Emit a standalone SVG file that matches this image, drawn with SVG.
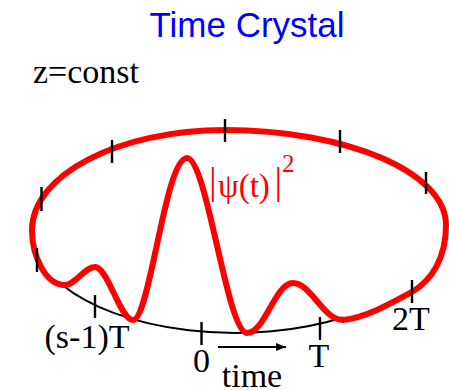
<svg xmlns="http://www.w3.org/2000/svg" width="449" height="390" viewBox="0 0 449 390">
<style>
.serif{font-family:"Liberation Serif","Times New Roman",serif;}
.tick{stroke:#000;stroke-width:2.4;fill:none;}
.lbl{font-size:34px;fill:#000;text-anchor:middle;}
</style>
<defs>
<marker id="ah" markerUnits="userSpaceOnUse" markerWidth="10" markerHeight="8" refX="10" refY="4" orient="auto">
<path d="M0,0 L10,4 L0,8 Z" fill="#000"/>
</marker>
</defs>
<rect width="449" height="390" fill="#fff"/>
<g id="title"><text x="247" y="37" font-family="'Liberation Sans',Arial,sans-serif" font-size="35" fill="#0000ff" text-anchor="middle">Time Crystal</text></g>
<g id="zconst"><text class="serif" x="33" y="83" font-size="34" fill="#000">z=const</text></g>
<g id="connectors">
<path id="baseline" d="M62 284.8 A203 101 0 0 0 343 317.5" fill="none" stroke="#000" stroke-width="2"/>
<line id="time-arrow" x1="218" y1="347" x2="286" y2="347" stroke="#000" stroke-width="2" marker-end="url(#ah)"/>
</g>
<g id="wave">
<path d="M343 320 C365 318 390 304 412 292 C432 280 446 258 446 225 C446 172.5 347 130 225 130 C118.4 130 32 174.8 32 230 C32 255 45 285 65 285 C75 285 85 267 95 267 C108 267 120 320 133 320 C150 320 165 158 187 158 C207 158 227 333 247 333 C265 333 275 283 293 283 C311 283 323 320 343 320 Z" fill="none" stroke="#ff0000" stroke-width="6" stroke-linejoin="round"/>
</g>
<g id="ticks">
<line class="tick" x1="225" y1="119" x2="225" y2="142"/>
<line class="tick" x1="112" y1="140" x2="112" y2="163"/>
<line class="tick" x1="41.5" y1="187" x2="41.5" y2="211"/>
<line class="tick" x1="37" y1="248" x2="37" y2="272"/>
<line class="tick" x1="95" y1="295" x2="95" y2="318"/>
<line class="tick" x1="201.5" y1="322" x2="201.5" y2="345"/>
<line class="tick" x1="320" y1="317" x2="320" y2="340"/>
<line class="tick" x1="412" y1="280" x2="412" y2="303"/>
<line class="tick" x1="340" y1="130" x2="340" y2="153"/>
<line class="tick" x1="426" y1="172" x2="426" y2="194"/>
</g>
<g id="labels" class="serif">
<text class="lbl" x="87" y="348">(s-1)T</text>
<text class="lbl" x="201.5" y="372">0</text>
<text class="lbl" x="319" y="367">T</text>
<text class="lbl" x="411" y="330">2T</text>
<text class="lbl" x="252" y="387">time</text>
<text y="197" font-size="33" fill="#ff0000"><tspan x="209" y="194" font-size="38">|</tspan><tspan x="218" y="197">ψ(t)</tspan><tspan x="274.5" y="194" font-size="38">|</tspan><tspan x="282" y="172" font-size="25">2</tspan></text>
</g>
</svg>
